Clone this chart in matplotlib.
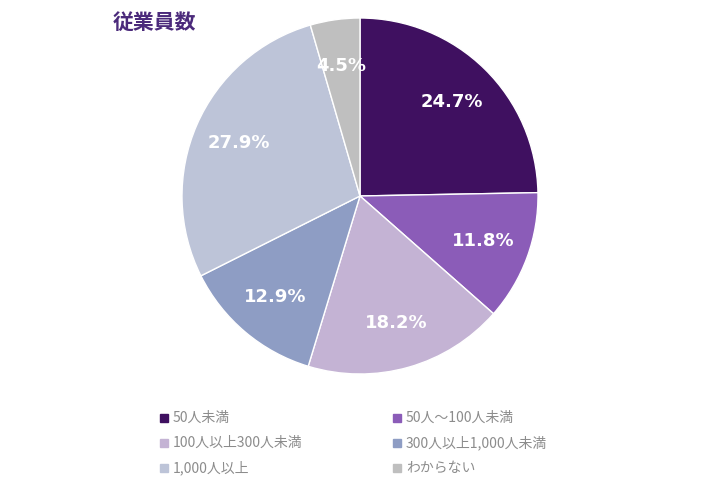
import matplotlib
matplotlib.use("Agg")
import matplotlib.pyplot as plt
from matplotlib.patches import Rectangle

categories = ["50人未満", "50人～100人未満", "100人以上300人未満", "300人以上1,000人未満", "1,000人以上", "わからない"]
values = [24.7, 11.8, 18.2, 12.9, 27.9, 4.5]
colors = ["#3F1060", "#8B5CB8", "#C4B3D4", "#8E9DC4", "#BDC4D8", "#BFBFBF"]

plt.rcParams["font.family"] = "Noto Sans CJK JP"
fig = plt.figure(figsize=(7.1, 4.84), dpi=100)
ax = fig.add_axes([182/710, (484-374)/484, 356/710, 356/484])
wedges, texts, autotexts = ax.pie(values, colors=colors, startangle=90, counterclock=False,
       autopct="%.1f%%", pctdistance=0.74, radius=1.0,
       wedgeprops=dict(linewidth=1, edgecolor="white"),
       textprops=dict(color="white", fontsize=13, fontweight="bold", fontfamily="DejaVu Sans"))
ax.set_xlim(-1, 1); ax.set_ylim(-1, 1); ax.set_aspect("equal")

fig.text(113/710, 1-22/484, "従業員数", color="#4B2A7B", fontsize=15, fontweight="bold", va="center")

pos = [(160, 418), (393, 418), (160, 443), (393, 443), (160, 468), (393, 468)]
for (x, y), c, lab in zip(pos, colors, categories):
    fig.patches.append(Rectangle((x/710, 1-(y+4)/484), 8/710, 8/484, color=c, transform=fig.transFigure))
    fig.text((x+13)/710, 1-y/484, lab, color="#8C8C8C", fontsize=10, va="center")

fig.savefig("out.png", dpi=100)
